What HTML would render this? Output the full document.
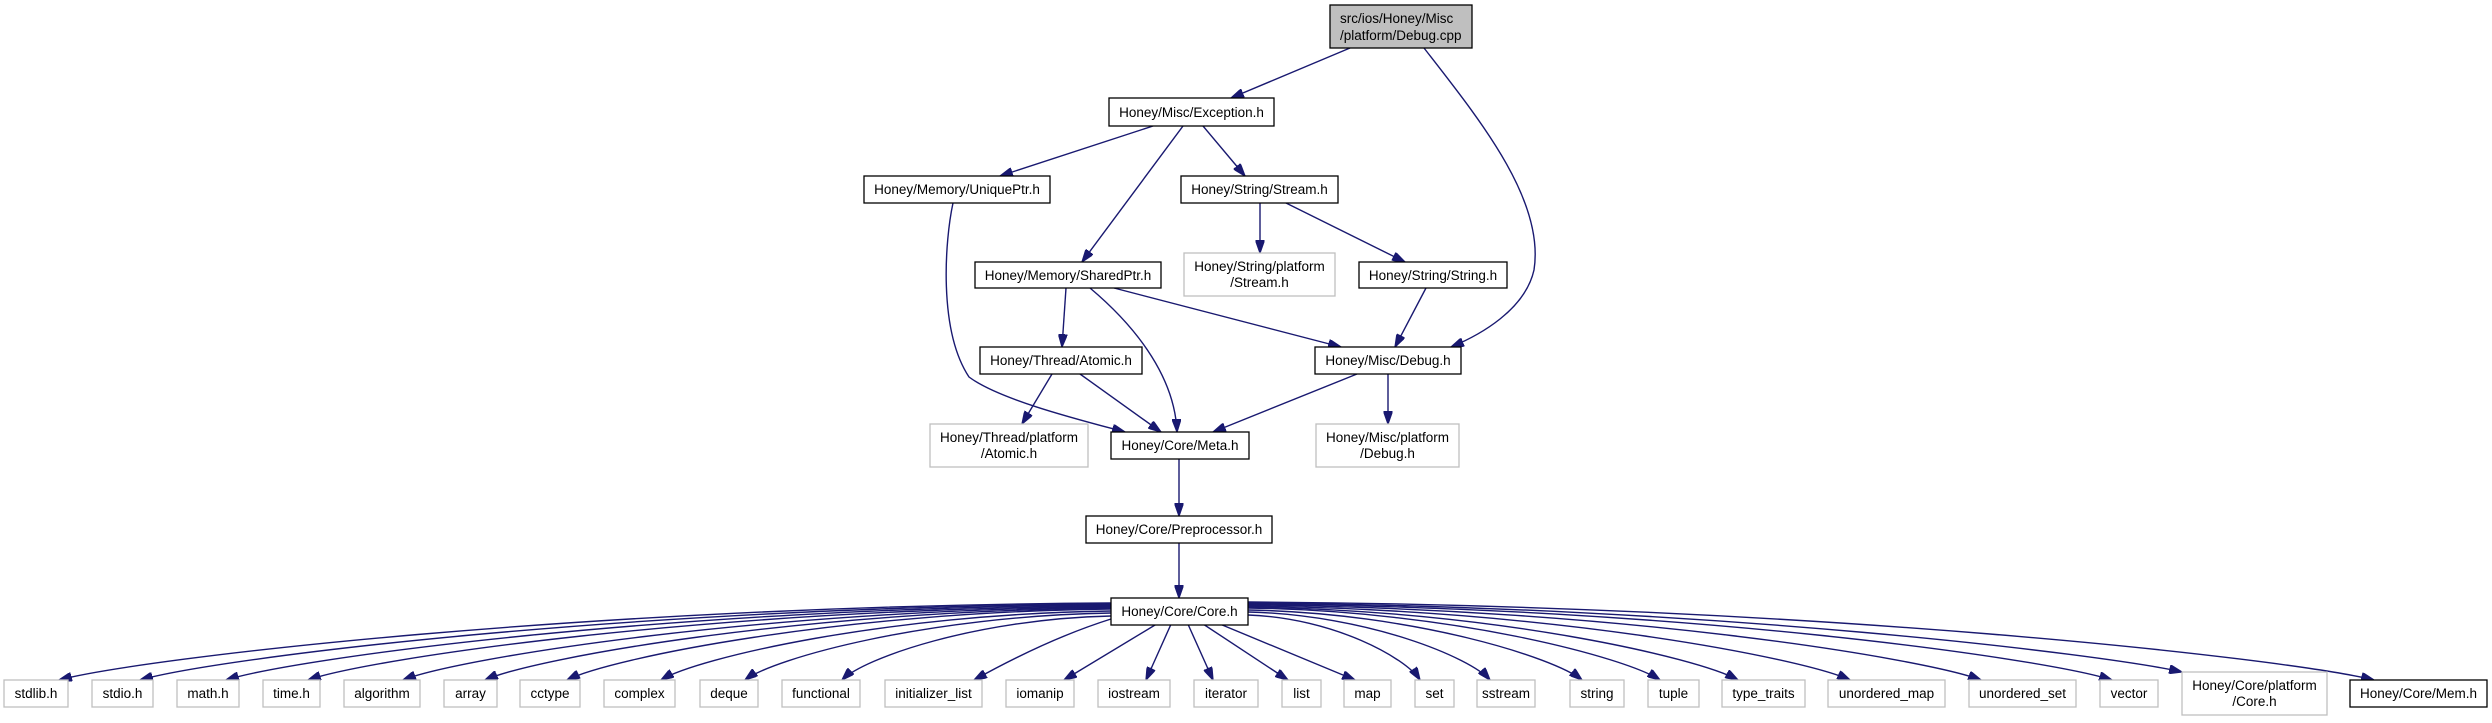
<!DOCTYPE html>
<html><head><meta charset="utf-8"><style>
html,body{margin:0;padding:0;background:#fff;}
svg{display:block;}
text{font-family:"Liberation Sans",Arial,sans-serif;font-size:13.5px;fill:#000;}
.n{fill:#fff;stroke:#000;stroke-width:1.3;}
.g{fill:#fff;stroke:#bfbfbf;stroke-width:1.3;}
.e{fill:none;stroke:#191970;stroke-width:1.4;}
</style></head><body>
<svg width="2492" height="723" viewBox="0 0 2492 723" xmlns="http://www.w3.org/2000/svg">
<defs>
<marker id="a" viewBox="0 0 10 7" refX="10" refY="3.5" markerUnits="userSpaceOnUse" markerWidth="13" markerHeight="9" orient="auto">
<path d="M0,0 L10,3.5 L0,7 z" fill="#191970" stroke="#191970"/>
</marker>
</defs>
<g marker-end="url(#a)">
<path class="e" d="M1350,48 L1231,98"/>
<path class="e" d="M1424,48 C1480,120 1545,200 1534,270 C1525,310 1480,335 1451,347"/>
<path class="e" d="M1153,126 L1000,176"/>
<path class="e" d="M1183,126 L1082,262"/>
<path class="e" d="M1203,126 L1245,176"/>
<path class="e" d="M953,203 C945,240 938,330 969,377 C1000,400 1080,420 1125,432"/>
<path class="e" d="M1260,203 L1260,253"/>
<path class="e" d="M1286,203 L1405,262"/>
<path class="e" d="M1066,288 L1062,347"/>
<path class="e" d="M1090,288 C1140,330 1175,380 1177,432"/>
<path class="e" d="M1114,288 L1341,347"/>
<path class="e" d="M1426,288 L1395,347"/>
<path class="e" d="M1052,374 L1022,424"/>
<path class="e" d="M1080,374 L1161,432"/>
<path class="e" d="M1357,374 L1213,432"/>
<path class="e" d="M1388,374 L1388,424"/>
<path class="e" d="M1179,459 L1179,516"/>
<path class="e" d="M1179,543 L1179,598"/>

<path class="e" d="M1111,603 C585,606 143,658 59,680"/>
<path class="e" d="M1111,604 C625,607 218,658 140,680"/>
<path class="e" d="M1111,605 C668,608 297,658 226,680"/>
<path class="e" d="M1111,606 C709,609 372,658 308,680"/>
<path class="e" d="M1111,607 C757,610 460,658 403,680"/>
<path class="e" d="M1111,608 C798,611 535,658 485,680"/>
<path class="e" d="M1111,609 C839,612 611,658 567,680"/>
<path class="e" d="M1111,611 C886,614 697,658 661,680"/>
<path class="e" d="M1111,613 C928,616 774,658 745,680"/>
<path class="e" d="M1111,616 C976,619 864,658 842,680"/>
<path class="e" d="M1111,619 C1060,635 1010,660 974,680"/>
<path class="e" d="M1160,622 L1064,680"/>
<path class="e" d="M1172,622 L1146,680"/>
<path class="e" d="M1187,622 L1213,680"/>
<path class="e" d="M1200,622 L1288,680"/>
<path class="e" d="M1215,622 L1355,680"/>
<path class="e" d="M1248,615 C1334,618 1406,658 1420,680"/>
<path class="e" d="M1248,612 C1369,615 1471,658 1490,680"/>
<path class="e" d="M1248,610 C1415,613 1555,658 1582,680"/>
<path class="e" d="M1248,608 C1454,611 1627,658 1660,680"/>
<path class="e" d="M1248,607 C1493,610 1699,658 1738,680"/>
<path class="e" d="M1248,606 C1549,609 1802,658 1850,680"/>
<path class="e" d="M1248,605 C1615,608 1922,658 1981,680"/>
<path class="e" d="M1248,604 C1680,607 2043,658 2112,680"/>
<path class="e" d="M1248,603 C1715,606 2107,655 2182,672"/>
<path class="e" d="M1248,602 C1811,605 2284,658 2374,680"/>
</g>

<!-- nodes -->
<rect x="1330" y="5" width="142" height="43" fill="#bfbfbf" stroke="#000" stroke-width="1.3"/>
<text x="1340" y="23">src/ios/Honey/Misc</text>
<text x="1340" y="40">/platform/Debug.cpp</text>

<rect class="n" x="1109" y="98" width="165" height="28"/><text x="1191.5" y="117" text-anchor="middle">Honey/Misc/Exception.h</text>
<rect class="n" x="864" y="176" width="186" height="27"/><text x="957" y="194" text-anchor="middle">Honey/Memory/UniquePtr.h</text>
<rect class="n" x="1181" y="176" width="157" height="27"/><text x="1259.5" y="194" text-anchor="middle">Honey/String/Stream.h</text>
<rect class="n" x="975" y="262" width="186" height="26"/><text x="1068" y="280" text-anchor="middle">Honey/Memory/SharedPtr.h</text>
<rect class="g" x="1184" y="253" width="151" height="43"/><text x="1259.5" y="271" text-anchor="middle">Honey/String/platform</text><text x="1259.5" y="287" text-anchor="middle">/Stream.h</text>
<rect class="n" x="1359" y="262" width="148" height="26"/><text x="1433" y="280" text-anchor="middle">Honey/String/String.h</text>
<rect class="n" x="980" y="347" width="162" height="27"/><text x="1061" y="365" text-anchor="middle">Honey/Thread/Atomic.h</text>
<rect class="n" x="1315" y="347" width="146" height="27"/><text x="1388" y="365" text-anchor="middle">Honey/Misc/Debug.h</text>
<rect class="g" x="930" y="424" width="158" height="43"/><text x="1009" y="442" text-anchor="middle">Honey/Thread/platform</text><text x="1009" y="458" text-anchor="middle">/Atomic.h</text>
<rect class="n" x="1111" y="432" width="138" height="27"/><text x="1180" y="450" text-anchor="middle">Honey/Core/Meta.h</text>
<rect class="g" x="1316" y="424" width="143" height="43"/><text x="1387.5" y="442" text-anchor="middle">Honey/Misc/platform</text><text x="1387.5" y="458" text-anchor="middle">/Debug.h</text>
<rect class="n" x="1086" y="516" width="186" height="27"/><text x="1179" y="534" text-anchor="middle">Honey/Core/Preprocessor.h</text>
<rect class="n" x="1111" y="598" width="137" height="27"/><text x="1179.5" y="616" text-anchor="middle">Honey/Core/Core.h</text>

<g>
<rect class="g" x="4" y="680" width="64" height="27"/><text x="36" y="698" text-anchor="middle">stdlib.h</text>
<rect class="g" x="92" y="680" width="61" height="27"/><text x="122.5" y="698" text-anchor="middle">stdio.h</text>
<rect class="g" x="177" y="680" width="62" height="27"/><text x="208" y="698" text-anchor="middle">math.h</text>
<rect class="g" x="263" y="680" width="57" height="27"/><text x="291.5" y="698" text-anchor="middle">time.h</text>
<rect class="g" x="344" y="680" width="76" height="27"/><text x="382" y="698" text-anchor="middle">algorithm</text>
<rect class="g" x="444" y="680" width="53" height="27"/><text x="470.5" y="698" text-anchor="middle">array</text>
<rect class="g" x="520" y="680" width="60" height="27"/><text x="550" y="698" text-anchor="middle">cctype</text>
<rect class="g" x="604" y="680" width="71" height="27"/><text x="639.5" y="698" text-anchor="middle">complex</text>
<rect class="g" x="700" y="680" width="58" height="27"/><text x="729" y="698" text-anchor="middle">deque</text>
<rect class="g" x="782" y="680" width="78" height="27"/><text x="821" y="698" text-anchor="middle">functional</text>
<rect class="g" x="885" y="680" width="97" height="27"/><text x="933.5" y="698" text-anchor="middle">initializer_list</text>
<rect class="g" x="1006" y="680" width="68" height="27"/><text x="1040" y="698" text-anchor="middle">iomanip</text>
<rect class="g" x="1098" y="680" width="72" height="27"/><text x="1134" y="698" text-anchor="middle">iostream</text>
<rect class="g" x="1194" y="680" width="64" height="27"/><text x="1226" y="698" text-anchor="middle">iterator</text>
<rect class="g" x="1282" y="680" width="39" height="27"/><text x="1301.5" y="698" text-anchor="middle">list</text>
<rect class="g" x="1344" y="680" width="47" height="27"/><text x="1367.5" y="698" text-anchor="middle">map</text>
<rect class="g" x="1415" y="680" width="39" height="27"/><text x="1434.5" y="698" text-anchor="middle">set</text>
<rect class="g" x="1477" y="680" width="58" height="27"/><text x="1506" y="698" text-anchor="middle">sstream</text>
<rect class="g" x="1570" y="680" width="54" height="27"/><text x="1597" y="698" text-anchor="middle">string</text>
<rect class="g" x="1648" y="680" width="51" height="27"/><text x="1673.5" y="698" text-anchor="middle">tuple</text>
<rect class="g" x="1722" y="680" width="83" height="27"/><text x="1763.5" y="698" text-anchor="middle">type_traits</text>
<rect class="g" x="1828" y="680" width="117" height="27"/><text x="1886.5" y="698" text-anchor="middle">unordered_map</text>
<rect class="g" x="1969" y="680" width="107" height="27"/><text x="2022.5" y="698" text-anchor="middle">unordered_set</text>
<rect class="g" x="2100" y="680" width="58" height="27"/><text x="2129" y="698" text-anchor="middle">vector</text>
<rect class="g" x="2182" y="672" width="145" height="43"/><text x="2254.5" y="690" text-anchor="middle">Honey/Core/platform</text><text x="2254.5" y="706" text-anchor="middle">/Core.h</text>
<rect class="n" x="2350" y="680" width="137" height="27"/><text x="2418.5" y="698" text-anchor="middle">Honey/Core/Mem.h</text>
</g>
</svg>
</body></html>
